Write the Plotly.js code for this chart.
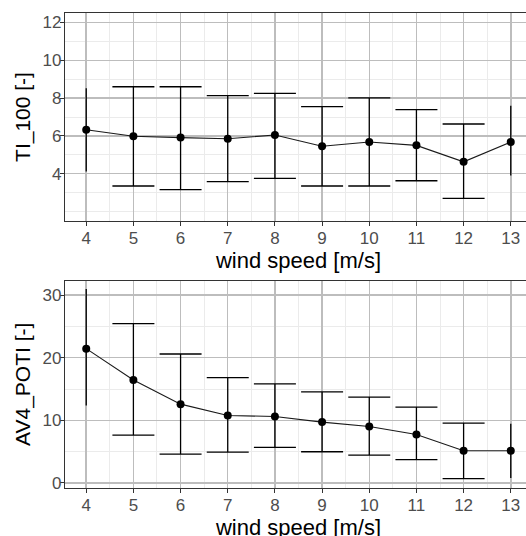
<!DOCTYPE html>
<html>
<head>
<meta charset="utf-8">
<script src="https://cdn.plot.ly/plotly-3.0.1.min.js"></script>
<style>
html,body{margin:0;padding:0;overflow:hidden;background:#fff;}
#wrap{width:526px;height:536px;overflow:hidden;position:relative;}
#chart{width:540px;height:550px;}
</style>
</head>
<body>
<div id="wrap"><div id="chart"></div></div>
<script>
// wind speed bins [m/s]
const windSpeed = [4, 5, 6, 7, 8, 9, 10, 11, 12, 13];

// TI_100 [-]: mean, upper and lower error-bar ends
const tiMean  = [6.33, 5.98, 5.91, 5.85, 6.05, 5.45, 5.68, 5.50, 4.63, 5.68];
const tiUpper = [8.52, 8.60, 8.60, 8.13, 8.25, 7.55, 8.01, 7.39, 6.63, 7.59];
const tiLower = [4.12, 3.35, 3.16, 3.58, 3.75, 3.35, 3.35, 3.63, 2.70, 3.91];

// AV4_POTI [-]: mean, upper and lower error-bar ends
const avMean  = [21.45, 16.46, 12.59, 10.78, 10.62, 9.72, 9.03, 7.75, 5.15, 5.15];
const avUpper = [30.96, 25.44, 20.60, 16.83, 15.83, 14.55, 13.70, 12.11, 9.56, 9.45];
const avLower = [12.37, 7.65, 4.62, 4.94, 5.68, 4.99, 4.46, 3.72, 0.69, 0.80];

// tick labels
const tiTicks = [4, 6, 8, 10, 12];
const avTicks = [0, 10, 20, 30];

const FONT = '"Liberation Sans", Arial, sans-serif';
const xRange = [3.55, 13.45];

function pick(arr, keep) { return arr.filter((_, i) => keep(windSpeed[i])); }
const capped = x => x > 4 && x < 13;
const uncapped = x => !capped(x);

function errTraces(mean, upper, lower, xa, ya) {
  const out = [];
  [[capped, 21], [uncapped, 0]].forEach(([keep, w]) => {
    const xs = pick(windSpeed, keep);
    const ys = pick(mean, keep);
    const up = pick(upper, keep).map((u, i) => u - ys[i]);
    const lo = pick(lower, keep).map((l, i) => ys[i] - l);
    out.push({
      type: 'scatter', mode: 'markers', x: xs, y: ys, xaxis: xa, yaxis: ya,
      marker: {size: 1, color: 'rgba(0,0,0,0)'},
      error_y: {type: 'data', symmetric: false, array: up, arrayminus: lo,
                color: '#000', thickness: 1.3, width: w},
      hoverinfo: 'skip', showlegend: false
    });
  });
  out.push({
    type: 'scatter', mode: 'lines+markers', x: windSpeed, y: mean, xaxis: xa, yaxis: ya,
    line: {color: '#1a1a1a', width: 1.1},
    marker: {color: '#000', size: 8},
    showlegend: false
  });
  return out;
}

const data = [].concat(
  errTraces(tiMean, tiUpper, tiLower, 'x', 'y'),
  errTraces(avMean, avUpper, avLower, 'x2', 'y2')
);

const gridMajor = '#BDBDBD', gridMinor = '#EBEBEB';
function xAxis(anchor, standoff) {
  return {
    anchor: anchor, range: xRange, tickmode: 'linear', tick0: 4, dtick: 1,
    showgrid: true, gridcolor: gridMajor, gridwidth: 1.5, zeroline: false,
    minor: {tickmode: 'linear', tick0: 3.5, dtick: 1, showgrid: true, gridcolor: gridMinor, gridwidth: 1, ticklen: 0},
    showline: true, mirror: true, linecolor: '#333', linewidth: 1.2,
    ticks: 'outside', ticklen: 4, tickcolor: '#333', tickwidth: 1,
    ticklabelstandoff: -3,
    tickfont: {family: FONT, size: 17, color: '#4D4D4D'},
    title: {text: 'wind speed [m/s]', font: {family: FONT, size: 22, color: '#000'}, standoff: standoff}
  };
}
function yAxis(domain, range, ticks, minorDtick, title) {
  return {
    domain: domain, range: range, tickmode: 'array', tickvals: ticks,
    showgrid: true, gridcolor: gridMajor, gridwidth: 1.5, zeroline: false,
    minor: {tickmode: 'linear', tick0: 0, dtick: minorDtick, showgrid: true, gridcolor: gridMinor, gridwidth: 1, ticklen: 0},
    showline: true, mirror: false, linecolor: '#333', linewidth: 1.2,
    ticks: 'outside', ticklen: 4, tickcolor: '#333', tickwidth: 1,
    ticklabelstandoff: -5,
    tickfont: {family: FONT, size: 17, color: '#4D4D4D'},
    title: {text: title, font: {family: FONT, size: 21, color: '#000'}, standoff: 6}
  };
}

const layout = {
  width: 540, height: 550,
  margin: {l: 65, r: 8, t: 13, b: 62},
  paper_bgcolor: '#fff', plot_bgcolor: '#fff',
  showlegend: false,
  xaxis: xAxis('y', 4),
  yaxis: yAxis([0.5621, 1], [1.5, 12.5], tiTicks, 1, 'TI_100 [-]'),
  xaxis2: xAxis('y2', 5),
  yaxis2: yAxis([0, 0.4364], [-0.8, 32.3], avTicks, 5, 'AV4_POTI [-]')
};

Plotly.newPlot('chart', data, layout, {staticPlot: true, displayModeBar: false});
</script>
</body>
</html>
